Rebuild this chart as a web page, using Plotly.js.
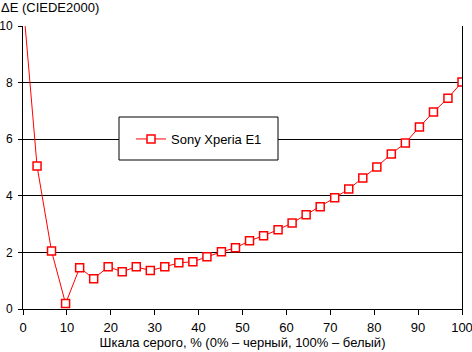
<!DOCTYPE html>
<html>
<head>
<meta charset="utf-8">
<script src="https://cdn.plot.ly/plotly-3.0.1.min.js"></script>
<style>html,body{margin:0;padding:0;background:#fff;}#chart{width:472px;height:352px;}</style>
</head>
<body>
<div id="chart"></div>
<script>
const grayLevels = [0, 3.2, 6.5, 9.7, 12.9, 16.1, 19.4, 22.6, 25.8, 29.0, 32.3, 35.5, 38.7, 41.9, 45.2, 48.4,
  51.6, 54.8, 58.1, 61.3, 64.5, 67.7, 71.0, 74.2, 77.4, 80.6, 83.9, 87.1, 90.3, 93.5, 96.8, 100];
const deltaE = [10.9, 5.05, 2.05, 0.19, 1.46, 1.07, 1.49, 1.32, 1.49, 1.36, 1.49, 1.63, 1.67, 1.85, 2.02, 2.16,
  2.41, 2.59, 2.80, 3.04, 3.33, 3.61, 3.93, 4.24, 4.63, 5.02, 5.48, 5.87, 6.43, 6.96, 7.45, 8.02];
const xTicks = [0, 10, 20, 30, 40, 50, 60, 70, 80, 90, 100];
const yTicks = [0, 2, 4, 6, 8, 10];
const seriesName = "Sony Xperia E1";
const xTitle = "Шкала серого, % (0% – черный, 100% – белый)";
const yTitle = "ΔE (CIEDE2000)";

const F = "Arial, 'Liberation Sans', sans-serif";
const FS = 13;
const W = 472, H = 352, L = 23, R = 10, T = 26, B = 43;
const pw = W - L - R, ph = H - T - B;
const px = v => (v - L) / pw;
const py = v => (H - B - v) / ph;

const trace = {
  x: grayLevels, y: deltaE, name: seriesName, type: 'scatter', mode: 'lines+markers',
  line: {color: '#ff0000', width: 1},
  marker: {symbol: 'square', size: 8, color: '#ffffff', line: {color: '#ff0000', width: 1.5}},
  cliponaxis: true
};

const layout = {
  width: W, height: H,
  margin: {l: L, r: R, t: T, b: B, pad: 0},
  paper_bgcolor: '#fff', plot_bgcolor: '#fff',
  font: {family: F, size: FS, color: '#000'},
  showlegend: true,
  legend: {x: px(131), y: py(139), xanchor: 'left', yanchor: 'middle',
    bgcolor: 'rgba(0,0,0,0)', borderwidth: 0, itemwidth: 30,
    font: {family: F, size: FS, color: '#000'}},
  xaxis: {range: [0, 100], tickvals: xTicks, ticktext: xTicks.map(String),
    showgrid: false, zeroline: false, showline: true, linecolor: '#000', linewidth: 1,
    ticks: 'outside', ticklen: 5, tickcolor: '#000', tickwidth: 1,
    ticklabeloverflow: 'allow', ticklabelstandoff: 1,
    tickfont: {family: F, size: FS, color: '#000'},
    title: {text: xTitle, font: {family: F, size: FS, color: '#000'}, standoff: 4},
    fixedrange: true},
  yaxis: {range: [0, 10], tickvals: yTicks, ticktext: yTicks.map(String),
    showgrid: true, gridcolor: '#000', gridwidth: 1, zeroline: false,
    showline: true, linecolor: '#000', linewidth: 1, mirror: true,
    ticks: 'outside', ticklen: 4, tickcolor: '#000', tickwidth: 1,
    ticklabeloverflow: 'allow', ticklabelstandoff: 3,
    tickfont: {family: F, size: 12, color: '#000'}, fixedrange: true},
  shapes: [{type: 'rect', xref: 'paper', yref: 'paper', layer: 'above',
    x0: px(119), x1: px(278), y0: py(160), y1: py(117),
    fillcolor: '#ffffff', line: {color: '#000', width: 1}}],
  annotations: [{text: yTitle, xref: 'paper', yref: 'paper', x: px(0), y: py(-1),
    xanchor: 'left', yanchor: 'top', showarrow: false, borderpad: 0,
    font: {family: F, size: FS, color: '#000'}}]
};

Plotly.newPlot('chart', [trace], layout, {staticPlot: true, displayModeBar: false});
</script>
</body>
</html>
